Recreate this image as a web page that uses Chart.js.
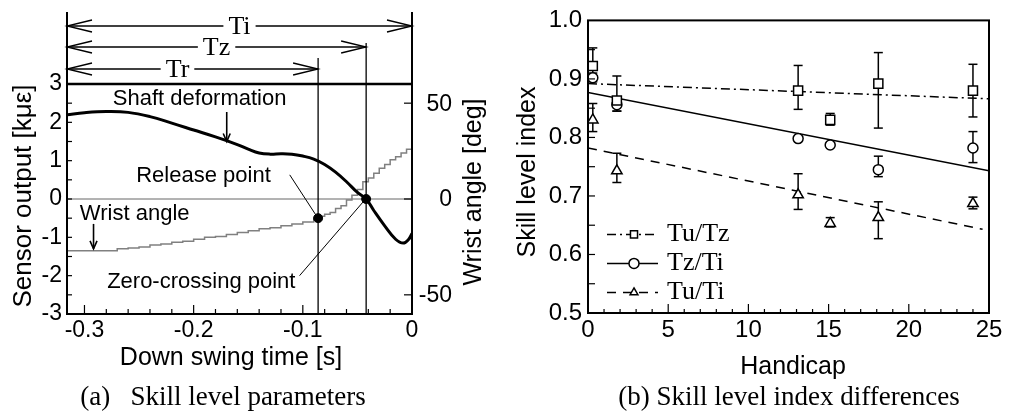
<!DOCTYPE html>
<html>
<head>
<meta charset="utf-8">
<script src="https://cdn.jsdelivr.net/npm/chart.js@4.4.1/dist/chart.umd.min.js"></script>
<style>
    html, body { margin: 0; padding: 0; background: #fff; }
    #wrap { position: relative; width: 1016px; height: 414px; }
    #swingChart { position: absolute; left: 0; top: 0; }
    #skillChart { position: absolute; left: 500px; top: 0; }
</style>
</head>
<body>
<div id="wrap">
    <canvas id="swingChart" width="500" height="414"></canvas>
    <canvas id="skillChart" width="516" height="414"></canvas>
</div>
<script>
// ---- (a) swing measurement data ----
const shaftTime = [-0.316, -0.30, -0.28, -0.26, -0.24, -0.22, -0.20, -0.18, -0.16, -0.15, -0.14, -0.13, -0.12, -0.11, -0.10, -0.09, -0.08, -0.07, -0.06, -0.05, -0.042, -0.035, -0.025, -0.015, -0.008, -0.003, 0];
const shaftOutput = [2.2, 2.25, 2.28, 2.26, 2.15, 1.98, 1.8, 1.62, 1.42, 1.3, 1.2, 1.17, 1.18, 1.17, 1.12, 1.04, 0.9, 0.7, 0.45, 0.17, 0, -0.3, -0.7, -1.05, -1.15, -1.05, -0.9];
const wristTime = [-0.316, -0.28, -0.27, -0.26, -0.25, -0.24, -0.23, -0.22, -0.21, -0.20, -0.19, -0.18, -0.17, -0.16, -0.15, -0.14, -0.13, -0.12, -0.11, -0.10, -0.09, -0.085, -0.08, -0.075, -0.07, -0.065, -0.06, -0.055, -0.05, -0.045, -0.04, -0.035, -0.03, -0.025, -0.02, -0.015, -0.01, -0.005, 0];
const wristAngle = [-27, -27, -26, -25.5, -25, -24, -23.5, -22.5, -22, -21, -20, -19.5, -18.5, -17.5, -16.5, -15.5, -15, -14, -13, -12, -10.5, -9, -8, -7, -5, -3.5, -0.5, 2, 5, 9, 11, 13.5, 16, 18, 20.5, 22, 24, 26, 27];
const releaseTime = -0.086;     // Tr
const releaseOutput = -0.5;
const zeroCrossTime = -0.042;   // Tz
const impactTime = 0;           // Ti
const timeTicks = [-0.3, -0.2, -0.1, 0];
const sensorTicks = [-3, -2, -1, 0, 1, 2, 3];
const angleTicks = [-50, 0, 50];

// ---- (b) skill level index data ----
const handicap = [0.3, 1.8, 13.1, 15.1, 18.1, 24.0];
const tuTz = [0.922, 0.863, 0.88, 0.83, 0.892, 0.88];
const tuTzLow = [0.90, 0.845, 0.848, 0.821, 0.816, 0.835];
const tuTzHigh = [0.953, 0.905, 0.923, 0.841, 0.945, 0.925];
const tzTi = [0.902, 0.856, 0.798, 0.787, 0.745, 0.782];
const tzTiLow = [0.895, 0.845, 0.798, 0.787, 0.733, 0.757];
const tzTiHigh = [0.91, 0.866, 0.798, 0.787, 0.768, 0.81];
const tuTi = [0.83, 0.743, 0.702, 0.653, 0.663, 0.687];
const tuTiLow = [0.81, 0.723, 0.677, 0.647, 0.627, 0.678];
const tuTiHigh = [0.858, 0.773, 0.738, 0.663, 0.69, 0.698];
const fitHandicap = [0, 25];
const tuTzFit = [0.892, 0.866];
const tzTiFit = [0.877, 0.743];
const tuTiFitHandicap = [0, 24.6];
const tuTiFit = [0.782, 0.643];
const handicapTicks = [0, 5, 10, 15, 20, 25];
const indexTicks = [0.5, 0.6, 0.7, 0.8, 0.9, 1.0];

const SANS = "'Liberation Sans', Arial, sans-serif";
const SERIF = "'Liberation Serif', 'Times New Roman', serif";

function toPoints(xs, ys) {
    return xs.map((x, i) => ({ x: x, y: ys[i] }));
}

function line(ctx, x1, y1, x2, y2) {
    ctx.beginPath();
    ctx.moveTo(x1, y1);
    ctx.lineTo(x2, y2);
    ctx.stroke();
}

function text(ctx, str, x, y, font, align, rotate) {
    ctx.save();
    ctx.translate(x, y);
    if (rotate) ctx.rotate(rotate);
    ctx.font = font;
    ctx.fillStyle = '#000';
    ctx.textAlign = align || 'center';
    ctx.textBaseline = 'middle';
    ctx.fillText(str, 0, 0);
    ctx.restore();
}

// small open arrow head pointing from (x1,y1) to (x2,y2)
function arrowHead(ctx, x1, y1, x2, y2, len, half) {
    const ang = Math.atan2(y2 - y1, x2 - x1);
    const bx = x2 - Math.cos(ang) * len, by = y2 - Math.sin(ang) * len;
    const nx = -Math.sin(ang) * half, ny = Math.cos(ang) * half;
    ctx.beginPath();
    ctx.moveTo(bx + nx, by + ny);
    ctx.lineTo(x2, y2);
    ctx.lineTo(bx - nx, by - ny);
    ctx.stroke();
}

// horizontal double arrow with a label gap (Ti / Tz / Tr)
function spanArrow(ctx, x1, x2, y, label, frac) {
    ctx.font = '26px ' + SERIF;
    const w = ctx.measureText(label).width;
    const cx = x1 + (x2 - x1) * frac;
    line(ctx, x1, y, cx - w / 2 - 5, y);
    line(ctx, cx + w / 2 + 5, y, x2, y);
    arrowHead(ctx, x2 - 30, y, x1, y, 25, 6);
    arrowHead(ctx, x1 + 30, y, x2, y, 25, 6);
    text(ctx, label, cx, y + 1, '26px ' + SERIF);
}

// Annotations for panel (a), in data units
const swingNotes = [
    { label: 'Shaft deformation', t: -0.1945, v: 2.6, from: [-0.1697, 2.27], to: [-0.1697, 1.5], head: true },
    { label: 'Release point', t: -0.191, v: 0.6, from: [-0.112, 0.63], to: [-0.088, -0.42], head: false },
    { label: 'Wrist angle', t: -0.254, v: -0.39, from: [-0.2917, -0.65], to: [-0.2917, -1.3], head: true },
    { label: 'Zero-crossing point', t: -0.193, v: -2.17, from: [-0.103, -2.0], to: [-0.044, -0.05], head: false }
];

const swingDecor = {
    id: 'swingDecor',
    beforeDatasetsDraw(chart) {
        const { ctx, chartArea: a, scales: { y } } = chart;
        ctx.save();
        // zero line
        ctx.strokeStyle = '#666';
        ctx.lineWidth = 1;
        line(ctx, a.left, y.getPixelForValue(0), a.right, y.getPixelForValue(0));
        ctx.restore();
    },
    afterDraw(chart) {
        const { ctx, chartArea: a, scales: { x, y, y2 } } = chart;
        ctx.save();
        ctx.strokeStyle = '#000';

        // frame
        ctx.lineWidth = 2;
        line(ctx, a.left, 12, a.left, a.bottom + 1);
        line(ctx, a.right, 12, a.right, a.bottom + 1);
        line(ctx, a.left - 1, a.bottom, a.right + 1, a.bottom);
        ctx.lineWidth = 2.5;
        line(ctx, a.left, a.top, a.right, a.top);

        // inward ticks
        ctx.lineWidth = 1.2;
        for (let k = -6; k <= 6; k++) {
            const py = y.getPixelForValue(k * 0.5);
            line(ctx, a.left, py, a.left + 5, py);
        }
        for (let k = 0; k <= 15; k++) {
            const px = x.getPixelForValue(-0.3 + k * 0.02);
            line(ctx, px, a.bottom, px, a.bottom - (k % 5 === 0 ? 9 : 5));
        }
        // right axis ticks and labels (right-aligned column)
        angleTicks.forEach(v => {
            const py = y2.getPixelForValue(v);
            line(ctx, a.right, py, a.right - 8, py);
            text(ctx, String(v), a.right + 40, py + 1, '23px ' + SANS, 'right');
        });

        // Tr / Tz vertical markers and span arrows
        const xr = x.getPixelForValue(releaseTime);
        const xz = x.getPixelForValue(zeroCrossTime);
        const xi = x.getPixelForValue(impactTime);
        ctx.lineWidth = 1.3;
        line(ctx, xr, a.top - 26, xr, a.bottom);
        line(ctx, xz, a.top - 41, xz, a.bottom);
        spanArrow(ctx, a.left, xi, a.top - 58, 'Ti', 0.5);
        spanArrow(ctx, a.left, xz, a.top - 37, 'Tz', 0.5);
        spanArrow(ctx, a.left, xr, a.top - 15, 'Tr', 0.44);

        // annotations
        swingNotes.forEach(n => {
            text(ctx, n.label, x.getPixelForValue(n.t), y.getPixelForValue(n.v), '22px ' + SANS);
            const x1 = x.getPixelForValue(n.from[0]), y1 = y.getPixelForValue(n.from[1]);
            const x2 = x.getPixelForValue(n.to[0]), y2p = y.getPixelForValue(n.to[1]);
            ctx.lineWidth = n.head ? 1.6 : 1;
            line(ctx, x1, y1, x2, y2p);
            if (n.head) arrowHead(ctx, x1, y1, x2, y2p, 8, 3.5);
        });

        // axis titles and caption
        text(ctx, 'Down swing time [s]', 231, 358, '25px ' + SANS);
        text(ctx, 'Sensor output [k\u03bc\u03b5]', 24, 196, '26px ' + SANS, 'center', -Math.PI / 2);
        text(ctx, 'Wrist angle [deg]', 474, 192, '25px ' + SANS, 'center', -Math.PI / 2);
        text(ctx, '(a)   Skill level parameters', 223, 398, '27px ' + SERIF);
        ctx.restore();
    }
};

const tickFont = { family: SANS, size: 23 };

const swingChart = new Chart(document.getElementById('swingChart'), {
    type: 'line',
    data: {
        datasets: [
            {
                label: 'Key points',
                data: [{ x: releaseTime, y: releaseOutput }, { x: zeroCrossTime, y: 0 }],
                yAxisID: 'y',
                showLine: false,
                pointRadius: 4.5,
                backgroundColor: '#000',
                borderColor: '#000'
            },
            {
                label: 'Shaft deformation',
                data: toPoints(shaftTime, shaftOutput),
                yAxisID: 'y',
                borderColor: '#000',
                borderWidth: 3,
                pointRadius: 0,
                tension: 0.4
            },
            {
                label: 'Wrist angle',
                data: toPoints(wristTime, wristAngle),
                yAxisID: 'y2',
                borderColor: '#808080',
                borderWidth: 1.5,
                pointRadius: 0,
                stepped: true
            }
        ]
    },
    options: {
        responsive: false,
        animation: false,
        events: [],
        layout: { padding: { top: 84, left: 0, right: 0, bottom: 0 } },
        plugins: { legend: { display: false }, tooltip: { enabled: false } },
        scales: {
            x: {
                type: 'linear',
                min: -0.316,
                max: 0,
                afterBuildTicks: s => { s.ticks = timeTicks.map(v => ({ value: v })); },
                afterFit: s => { s.height = 100; },
                ticks: { color: '#000', font: tickFont, padding: 3, maxRotation: 0, callback: v => String(v) },
                grid: { display: false, drawTicks: false },
                border: { display: false }
            },
            y: {
                position: 'left',
                min: -3,
                max: 3,
                afterBuildTicks: s => { s.ticks = sensorTicks.map(v => ({ value: v })); },
                afterFit: s => { s.width = 67; },
                ticks: { color: '#000', font: tickFont, padding: 5, callback: v => String(v) },
                grid: { display: false, drawTicks: false },
                border: { display: false }
            },
            y2: {
                position: 'right',
                min: -60,
                max: 60,
                afterFit: s => { s.width = 88; },
                ticks: { display: false },
                grid: { display: false, drawTicks: false },
                border: { display: false }
            }
        }
    },
    plugins: [swingDecor]
});

// ---- (b) skill level index chart ----
const skillSeries = [
    { label: 'Tu/Tz', values: tuTz, low: tuTzLow, high: tuTzHigh, style: 'rect', radius: 6.4, legendRadius: 5, dash: [9, 4, 2, 4] },
    { label: 'Tz/Ti', values: tzTi, low: tzTiLow, high: tzTiHigh, style: 'circle', radius: 5, legendRadius: 5, dash: [] },
    { label: 'Tu/Ti', values: tuTi, low: tuTiLow, high: tuTiHigh, style: 'triangle', radius: 6, legendRadius: 4.5, dash: [9, 7] }
];

const skillDecor = {
    id: 'skillDecor',
    beforeDatasetsDraw(chart) {
        const { ctx, scales: { x, y } } = chart;
        ctx.save();
        ctx.strokeStyle = '#000';
        ctx.lineWidth = 1.5;
        // error bars
        skillSeries.forEach(s => {
            handicap.forEach((h, i) => {
                if (s.high[i] - s.low[i] <= 0) return;
                const px = x.getPixelForValue(h);
                const top = y.getPixelForValue(s.high[i]);
                const bot = y.getPixelForValue(s.low[i]);
                line(ctx, px, top, px, bot);
                line(ctx, px - 4.5, top, px + 4.5, top);
                line(ctx, px - 4.5, bot, px + 4.5, bot);
            });
        });
        ctx.restore();
    },
    afterDraw(chart) {
        const { ctx, chartArea: a, scales: { x, y } } = chart;
        ctx.save();
        ctx.strokeStyle = '#000';

        // frame
        ctx.lineWidth = 2;
        ctx.strokeRect(a.left, a.top, a.right - a.left, a.bottom - a.top);

        // inward ticks
        ctx.lineWidth = 1.2;
        for (let k = 1; k < 10; k++) {
            const py = y.getPixelForValue(0.5 + k * 0.05);
            line(ctx, a.left, py, a.left + 7, py);
        }
        for (let k = 1; k < 25; k++) {
            const px = x.getPixelForValue(k);
            line(ctx, px, a.bottom, px, a.bottom - (k % 5 === 0 ? 9 : 4));
        }

        // legend
        skillSeries.forEach((s, i) => {
            const ly = a.top + 214 + 29 * i;
            ctx.lineWidth = 1.5;
            ctx.setLineDash(s.dash);
            line(ctx, a.left + 19, ly, a.left + 70, ly);
            ctx.setLineDash([]);
            ctx.fillStyle = '#fff';
            ctx.lineWidth = 1.5;
            Chart.helpers.drawPoint(ctx, { pointStyle: s.style, radius: s.legendRadius, borderWidth: 1.5, rotation: 0 }, a.left + 46, ly);
            text(ctx, s.label, a.left + 79, ly, '26px ' + SERIF, 'left');
        });

        // axis titles and caption
        text(ctx, 'Skill level index', 28, 172, '25px ' + SANS, 'center', -Math.PI / 2);
        text(ctx, 'Handicap', 293, 367, '25px ' + SANS);
        text(ctx, '(b) Skill level index differences', 289, 398, '27px ' + SERIF);
        ctx.restore();
    }
};

const markerSets = skillSeries.map(s => ({
    label: s.label,
    data: toPoints(handicap, s.values),
    showLine: false,
    pointStyle: s.style,
    pointRadius: s.radius,
    pointBorderWidth: 1.5,
    pointBackgroundColor: '#fff',
    pointBorderColor: '#000'
}));

const fitSets = [
    { label: 'Tu/Tz fit', data: toPoints(fitHandicap, tuTzFit), borderDash: [9, 4, 2, 4] },
    { label: 'Tz/Ti fit', data: toPoints(fitHandicap, tzTiFit), borderDash: [] },
    { label: 'Tu/Ti fit', data: toPoints(tuTiFitHandicap, tuTiFit), borderDash: [9, 7] }
].map(d => Object.assign(d, { showLine: true, pointRadius: 0, borderColor: '#000', borderWidth: 1.5 }));

const skillChart = new Chart(document.getElementById('skillChart'), {
    type: 'scatter',
    data: { datasets: markerSets.concat(fitSets) },
    options: {
        responsive: false,
        animation: false,
        events: [],
        layout: { padding: { top: 13, left: 0, right: 27, bottom: 0 } },
        plugins: { legend: { display: false }, tooltip: { enabled: false } },
        scales: {
            x: {
                type: 'linear',
                min: 0,
                max: 25,
                afterBuildTicks: s => { s.ticks = handicapTicks.map(v => ({ value: v })); },
                afterFit: s => { s.height = 101; },
                ticks: { color: '#000', font: { family: SANS, size: 24 }, padding: 3, maxRotation: 0, callback: v => String(v) },
                grid: { display: false, drawTicks: false },
                border: { display: false }
            },
            y: {
                min: 0.5,
                max: 1.0,
                afterBuildTicks: s => { s.ticks = indexTicks.map(v => ({ value: v })); },
                afterFit: s => { s.width = 88; },
                ticks: { color: '#000', font: { family: SANS, size: 24 }, padding: 6, callback: v => v.toFixed(1) },
                grid: { display: false, drawTicks: false },
                border: { display: false }
            }
        }
    },
    plugins: [skillDecor]
});
</script>
</body>
</html>
